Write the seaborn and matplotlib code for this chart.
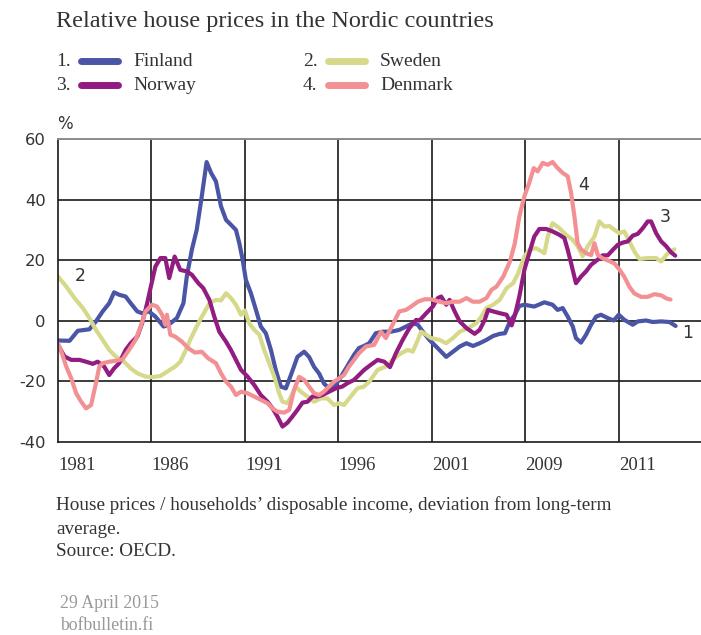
import pandas as pd
import seaborn as sns
import matplotlib.pyplot as plt
from matplotlib.lines import Line2D

# Relative house prices, % deviation from long-term average
fin_years = [1981.0, 1981.62, 1982.06, 1982.68, 1983.03, 1983.39, 1983.74, 1984.0, 1984.27, 1984.62,
             1984.89, 1985.24, 1985.5, 1985.86, 1986.21, 1986.65, 1986.92, 1987.36, 1987.71, 1987.89,
             1988.16, 1988.42, 1988.69, 1988.95, 1989.19, 1989.45, 1989.72, 1989.99, 1990.25, 1990.52,
             1990.70, 1990.88, 1991.05, 1991.32, 1991.59, 1991.85, 1992.12, 1992.39, 1992.65, 1992.92,
             1993.19, 1993.46, 1993.81, 1994.17, 1994.43, 1994.70, 1994.97, 1995.23, 1995.50, 1995.77,
             1996.04, 1996.30, 1996.57, 1996.84, 1997.10, 1997.37, 1997.65, 1998.0, 1998.37, 1998.81,
             1999.26, 1999.62, 1999.98, 2000.25, 2000.52, 2000.87, 2001.23, 2001.50, 2001.77, 2002.13,
             2002.49, 2002.85, 2003.20, 2003.56, 2003.92, 2004.28, 2004.64, 2004.91, 2005.18, 2005.44,
             2005.68, 2005.95, 2006.48, 2007.02, 2007.46, 2007.73, 2008.0, 2008.27, 2008.54, 2008.71,
             2008.98, 2009.25, 2009.52, 2009.79, 2010.05, 2010.41, 2010.73, 2011.0, 2011.30, 2011.75,
             2012.02, 2012.46, 2012.82, 2013.27, 2013.71, 2014.04]
fin_values = [-6.5, -6.6, -3.3, -2.8, -0.2, 3.1, 5.8, 9.4, 8.6, 8.0,
              5.8, 3.1, 2.5, 3.1, 1.4, -1.9, -1.3, 0.9, 5.8, 14.6,
              23.4, 30.0, 41.0, 52.4, 48.8, 46.0, 37.8, 33.3, 31.7, 30.0,
              25.6, 20.1, 13.5, 9.1, 3.6, -1.9, -4.1, -9.6, -16.2, -21.7,
              -22.3, -17.9, -11.9, -10.2, -11.9, -15.2, -17.4, -20.7, -22.3, -21.7,
              -19.5, -16.8, -14.0, -11.2, -9.0, -8.3, -7.4, -4.1, -3.6, -3.6,
              -3.0, -1.9, -0.8, -1.3, -3.6, -6.3, -8.5, -10.2, -11.9, -10.2,
              -8.5, -7.4, -8.3, -7.4, -6.3, -5.0, -4.3, -4.1, -0.2, 2.0,
              4.9, 5.3, 4.7, 6.1, 5.3, 3.6, 4.2, 1.4, -1.9, -5.7,
              -7.2, -4.6, -1.3, 1.4, 2.0, 0.9, 0.1, 2.0, 0.3, -1.3,
              -0.2, 0.1, -0.4, -0.2, -0.4, -1.7]

swe_years = [1981.0, 1981.44, 1981.88, 1982.33, 1982.68, 1983.03, 1983.39, 1983.74, 1984.09, 1984.53,
             1984.89, 1985.24, 1985.68, 1986.04, 1986.48, 1986.83, 1987.27, 1987.54, 1987.80, 1988.07,
             1988.33, 1988.60, 1988.86, 1989.10, 1989.45, 1989.72, 1989.99, 1990.25, 1990.52, 1990.79,
             1991.0, 1991.23, 1991.50, 1991.77, 1992.03, 1992.30, 1992.57, 1992.83, 1993.01, 1993.28,
             1993.46, 1993.72, 1993.99, 1994.35, 1994.70, 1995.06, 1995.41, 1995.77, 1996.04, 1996.30,
             1996.66, 1997.01, 1997.37, 1997.65, 1998.10, 1998.54, 1998.90, 1999.35, 1999.71, 1999.98,
             2000.25, 2000.43, 2000.70, 2000.96, 2001.41, 2001.77, 2002.13, 2002.49, 2002.94, 2003.38,
             2003.65, 2003.92, 2004.28, 2004.64, 2005.0, 2005.35, 2005.62, 2005.95, 2006.21, 2006.57,
             2007.02, 2007.20, 2007.46, 2007.82, 2008.18, 2008.54, 2008.80, 2009.07, 2009.34, 2009.70,
             2009.96, 2010.23, 2010.50, 2010.77, 2011.04, 2011.30, 2011.57, 2011.84, 2012.11, 2012.55,
             2013.0, 2013.27, 2013.63, 2013.98]
swe_values = [14.6, 11.3, 7.5, 4.2, 0.9, -3.0, -6.3, -9.6, -11.8, -13.5,
              -15.7, -17.3, -18.4, -18.6, -18.2, -16.8, -15.1, -13.5, -10.2, -6.3,
              -3.0, 0.3, 3.1, 5.8, 6.9, 6.7, 9.1, 7.5, 5.3, 2.0,
              3.4, -0.8, -3.0, -4.6, -9.6, -14.0, -18.4, -23.9, -26.7, -27.2,
              -25.0, -21.7, -23.4, -25.0, -26.7, -25.6, -25.6, -27.8, -27.2, -27.8,
              -25.0, -22.3, -21.7, -20.1, -16.2, -15.1, -12.9, -10.7, -9.6, -10.2,
              -6.3, -3.6, -4.6, -5.7, -6.3, -7.4, -5.7, -3.6, -2.4, -0.8,
              1.4, 4.2, 5.3, 7.0, 10.8, 12.4, 15.7, 21.2, 23.4, 24.0,
              22.3, 27.8, 32.2, 30.6, 28.4, 26.7, 24.6, 21.3, 24.6, 27.8,
              32.8, 31.1, 31.3, 30.0, 28.9, 29.5, 26.2, 22.8, 20.4, 20.7,
              20.7, 19.6, 22.3, 23.6]

nor_years = [1981.0, 1981.35, 1981.71, 1982.15, 1982.50, 1982.86, 1983.12, 1983.47, 1983.74, 1984.0,
             1984.27, 1984.62, 1984.89, 1985.24, 1985.50, 1985.77, 1985.95, 1986.21, 1986.48, 1986.74,
             1986.95, 1987.24, 1987.54, 1987.89, 1988.16, 1988.51, 1988.77, 1989.10, 1989.36, 1989.63,
             1989.99, 1990.25, 1990.52, 1990.79, 1991.14, 1991.50, 1991.85, 1992.21, 1992.48, 1992.74,
             1993.01, 1993.28, 1993.54, 1993.81, 1994.08, 1994.35, 1994.61, 1994.88, 1995.15, 1995.50,
             1995.86, 1996.21, 1996.48, 1996.84, 1997.10, 1997.38, 1997.74, 1998.10, 1998.46, 1998.76,
             1999.08, 1999.44, 1999.80, 2000.16, 2000.34, 2000.70, 2001.05, 2001.32, 2001.50, 2001.77,
             2001.95, 2002.22, 2002.49, 2002.85, 2003.29, 2003.56, 2003.83, 2004.01, 2004.28, 2004.64,
             2005.0, 2005.27, 2005.45, 2005.68, 2005.95, 2006.21, 2006.48, 2006.75, 2007.11, 2007.46,
             2007.82, 2008.09, 2008.27, 2008.45, 2008.71, 2008.98, 2009.25, 2009.52, 2009.88, 2010.14,
             2010.41, 2010.68, 2010.95, 2011.21, 2011.48, 2011.75, 2012.02, 2012.29, 2012.55, 2012.73,
             2013.0, 2013.27, 2013.54, 2013.80, 2014.02]
nor_values = [-8.0, -11.8, -12.9, -12.9, -13.5, -14.2, -13.5, -15.1, -17.9, -15.7,
              -14.0, -9.6, -7.4, -5.2, -0.8, 5.8, 10.8, 17.9, 20.7, 20.7,
              14.1, 21.2, 16.8, 16.3, 15.2, 12.4, 10.8, 6.9, 1.4, -3.6,
              -6.9, -9.6, -12.9, -16.2, -18.4, -21.2, -24.5, -26.7, -28.9, -31.6,
              -34.9, -33.6, -31.6, -29.4, -27.0, -26.7, -25.0, -25.0, -24.5, -23.4,
              -22.3, -21.7, -20.6, -19.5, -17.9, -16.2, -14.5, -12.9, -13.5, -15.3,
              -10.7, -6.3, -2.4, 0.3, 0.1, 2.5, 4.7, 7.5, 8.0, 5.3,
              6.9, 3.1, -0.2, -2.4, -4.3, -3.0, 0.3, 3.6, 3.1, 2.5,
              2.0, -1.5, 2.0, 8.0, 16.8, 22.3, 27.8, 30.3, 30.3, 29.5,
              28.4, 27.3, 23.4, 19.0, 12.4, 14.6, 16.3, 18.5, 20.2, 21.6,
              21.6, 23.4, 25.1, 25.8, 26.2, 28.1, 28.7, 30.6, 32.8, 32.8,
              28.9, 26.2, 24.6, 22.6, 21.5]

den_years = [1981.0, 1981.18, 1981.44, 1981.71, 1981.97, 1982.24, 1982.50, 1982.77, 1983.03, 1983.21,
             1983.39, 1983.74, 1984.09, 1984.45, 1984.80, 1985.15, 1985.42, 1985.68, 1986.04, 1986.30,
             1986.57, 1986.74, 1986.83, 1987.01, 1987.27, 1987.63, 1987.98, 1988.33, 1988.69, 1989.04,
             1989.45, 1989.72, 1989.99, 1990.25, 1990.52, 1990.79, 1991.14, 1991.50, 1991.85, 1992.21,
             1992.48, 1992.74, 1993.10, 1993.37, 1993.63, 1993.90, 1994.17, 1994.43, 1994.70, 1994.97,
             1995.23, 1995.50, 1995.77, 1996.04, 1996.30, 1996.57, 1996.84, 1997.10, 1997.47, 1997.92,
             1998.28, 1998.54, 1998.90, 1999.26, 1999.62, 1999.89, 2000.25, 2000.61, 2000.96, 2001.41,
             2001.77, 2002.13, 2002.49, 2002.85, 2003.20, 2003.56, 2003.92, 2004.19, 2004.46, 2004.82,
             2005.18, 2005.44, 2005.68, 2005.95, 2006.21, 2006.45, 2006.66, 2006.93, 2007.20, 2007.46,
             2007.73, 2008.0, 2008.27, 2008.45, 2008.63, 2008.80, 2008.98, 2009.25, 2009.52, 2009.70,
             2009.88, 2010.14, 2010.50, 2010.77, 2011.04, 2011.30, 2011.57, 2011.84, 2012.20, 2012.55,
             2012.91, 2013.27, 2013.54, 2013.77]
den_values = [-7.4, -10.2, -15.1, -19.0, -23.9, -26.7, -28.9, -27.8, -20.6, -15.1,
              -14.0, -13.5, -13.2, -12.7, -9.6, -6.3, -1.9, 3.1, 5.3, 4.7,
              2.0, -1.3, 2.0, -4.6, -5.2, -6.9, -9.1, -10.5, -10.2, -12.4,
              -14.0, -17.3, -20.1, -21.7, -24.5, -23.4, -23.9, -25.0, -26.1, -27.2,
              -28.9, -30.0, -30.3, -29.4, -22.8, -18.5, -19.5, -21.7, -23.9, -24.5,
              -23.4, -21.7, -20.1, -19.0, -17.9, -15.1, -12.9, -10.7, -8.5, -7.9,
              -3.6, -5.7, -1.3, 3.1, 3.6, 4.7, 6.3, 7.1, 7.1, 6.3,
              5.8, 6.3, 6.3, 7.5, 6.3, 6.3, 7.5, 10.2, 11.3, 14.6,
              19.6, 25.6, 34.4, 41.1, 45.5, 50.4, 49.3, 52.1, 51.5, 52.4,
              50.4, 48.8, 47.7, 42.2, 34.4, 25.6, 23.6, 22.3, 21.7, 25.6,
              21.7, 20.6, 19.7, 18.9, 16.9, 14.5, 11.2, 9.0, 7.9, 7.9,
              8.8, 8.4, 7.4, 7.0]

countries = ["Finland", "Sweden", "Norway", "Denmark"]
colors = {"Finland": "#4a55a6", "Sweden": "#d6d98a", "Norway": "#921c80", "Denmark": "#f29093"}
tick_years = [1981, 1986, 1991, 1996, 2001, 2006, 2011]
tick_labels = ["1981", "1986", "1991", "1996", "2001", "2009", "2011"]

frames = []
for name, yrs, vals in [("Finland", fin_years, fin_values), ("Sweden", swe_years, swe_values),
                        ("Norway", nor_years, nor_values), ("Denmark", den_years, den_values)]:
    frames.append(pd.DataFrame({"year": yrs, "value": vals, "country": name}))
df = pd.concat(frames, ignore_index=True)

sns.set_style("white")
serif = "Liberation Serif"
sans = "DejaVu Sans"
text_col = "#333333"

W, H = 701, 635
fig = plt.figure(figsize=(W / 100, H / 100), dpi=100)


def fx(x):
    return x / W


def fy(y):
    return 1 - y / H


ax = fig.add_axes([fx(58), fy(442), fx(701) - fx(58), fy(139) - fy(442)])
sns.lineplot(data=df, x="year", y="value", hue="country", hue_order=countries,
             palette=colors, estimator=None, sort=False, linewidth=3.0,
             legend=False, ax=ax)

ax.set_xlim(1981, 2015.4)
ax.set_ylim(-40, 60)
ax.set_xlabel("")
ax.set_ylabel("")
ax.set_yticks([-40, -20, 0, 20, 40, 60])
ax.set_yticklabels(["-40", "-20", "0", "20", "40", "60"], fontfamily=sans, fontsize=11.8, color=text_col)
ax.set_xticks(tick_years)
ax.set_xticklabels(tick_labels, fontfamily=serif, fontsize=13.5, color=text_col, ha="left")
ax.tick_params(axis="y", length=0, pad=9)
ax.tick_params(axis="x", length=0, pad=11)

for y in [-20, 0, 20, 40]:
    ax.axhline(y, color="#1a1a1a", linewidth=1.2, zorder=1)
for x in tick_years[1:]:
    ax.axvline(x, color="#1a1a1a", linewidth=1.2, zorder=1)
for ln in ax.get_lines():
    ln.set_solid_capstyle("round")

ax.spines["right"].set_visible(False)
ax.spines["top"].set_color("#8a8a8a")
ax.spines["top"].set_linewidth(1.4)
for s in ["left", "bottom"]:
    ax.spines[s].set_color("#1a1a1a")
    ax.spines[s].set_linewidth(1.2)

# series numbers next to the lines
ax.text(1981.9, 14.8, "2", fontfamily=sans, fontsize=12.5, color=text_col, va="center", ha="left")
ax.text(2009.1, 44.8, "4", fontfamily=sans, fontsize=12.5, color=text_col, va="center", ha="center")
ax.text(2013.5, 34.4, "3", fontfamily=sans, fontsize=12.5, color=text_col, va="center", ha="center")
ax.text(2014.7, -3.9, "1", fontfamily=sans, fontsize=12.5, color=text_col, va="center", ha="center")

fig.text(fx(57), fy(124), "%", fontfamily=sans, fontsize=12, color=text_col, va="center", ha="left")

# title and legend
fig.text(fx(56), fy(21), "Relative house prices in the Nordic countries", fontfamily=serif,
         fontsize=17.5, color=text_col, va="center", ha="left")
legend_pos = [(56, 62), (303, 62), (56, 86), (303, 86)]
legend_order = ["Finland", "Sweden", "Norway", "Denmark"]
legend_num = ["1.", "2.", "3.", "4."]
for (lx, ly), name, num in zip(legend_pos, legend_order, legend_num):
    fig.text(fx(lx), fy(ly), num, fontfamily=serif, fontsize=14, color=text_col, va="center", ha="left")
    fig.add_artist(Line2D([fx(lx + 25), fx(lx + 62)], [fy(ly - 1), fy(ly - 1)], transform=fig.transFigure,
                          color=colors[name], linewidth=5, solid_capstyle="round"))
    fig.text(fx(lx + 77), fy(ly), name, fontfamily=serif, fontsize=14, color=text_col, va="center", ha="left")

# notes
fig.text(fx(56), fy(505), "House prices / households\u2019 disposable income, deviation from long-term",
         fontfamily=serif, fontsize=13.8, color=text_col, va="center", ha="left")
fig.text(fx(56), fy(529), "average.", fontfamily=serif, fontsize=13.8, color=text_col, va="center", ha="left")
fig.text(fx(56), fy(551), "Source: OECD.", fontfamily=serif, fontsize=13.8, color=text_col, va="center", ha="left")
fig.text(fx(60), fy(604), "29 April 2015", fontfamily=serif, fontsize=12.8, color="#999999", va="center", ha="left")
fig.text(fx(60), fy(626), "bofbulletin.fi", fontfamily=serif, fontsize=12.8, color="#999999", va="center", ha="left")

fig.savefig("out.png", dpi=100, facecolor="white")
